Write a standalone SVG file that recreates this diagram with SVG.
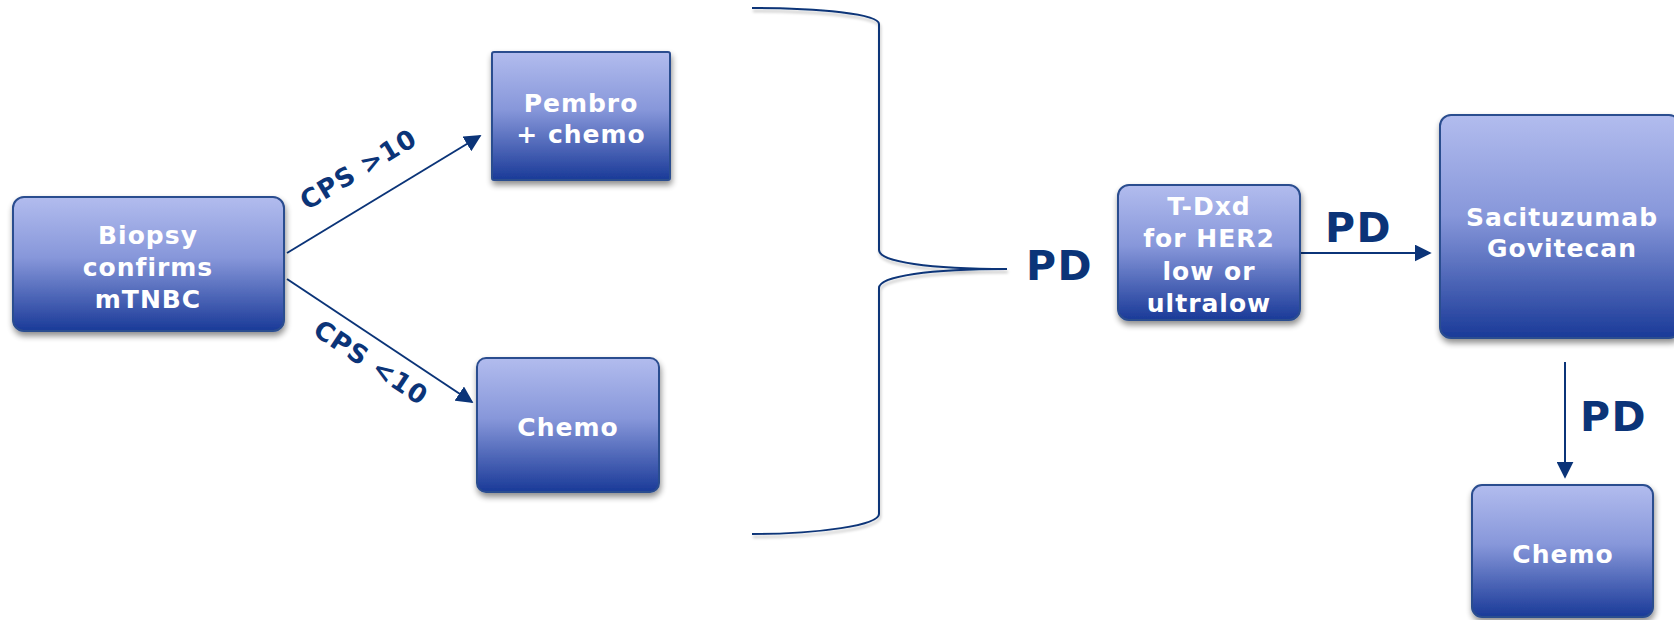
<svg xmlns="http://www.w3.org/2000/svg" width="1674" height="620" viewBox="0 0 1674 620">
<defs>
<linearGradient id="g" x1="0" y1="0" x2="0" y2="1">
<stop offset="0" stop-color="#b2bcee"/>
<stop offset="0.45" stop-color="#8797da"/>
<stop offset="1" stop-color="#1a3a98"/>
</linearGradient>
<filter id="sh" x="-10%" y="-10%" width="125%" height="125%">
<feGaussianBlur in="SourceAlpha" stdDeviation="3"/>
<feOffset dx="1" dy="4" result="b"/>
<feComponentTransfer><feFuncA type="linear" slope="0.45"/></feComponentTransfer>
<feMerge><feMergeNode/><feMergeNode in="SourceGraphic"/></feMerge>
</filter>
<filter id="lsh" x="-5%" y="-5%" width="110%" height="110%">
<feGaussianBlur in="SourceAlpha" stdDeviation="1.5"/>
<feOffset dx="1" dy="3"/>
<feComponentTransfer><feFuncA type="linear" slope="0.25"/></feComponentTransfer>
<feMerge><feMergeNode/><feMergeNode in="SourceGraphic"/></feMerge>
</filter>
<marker id="ah2" viewBox="0 0 10 10" refX="9" refY="5" markerWidth="17" markerHeight="17" markerUnits="userSpaceOnUse" orient="auto">
<path d="M0,0 L10,5 L0,10 z" fill="#0b3478"/>
</marker>
</defs>
<style>
.box{fill:url(#g);stroke:#2c4d8f;stroke-width:2;filter:url(#sh)}
.t{font-family:"DejaVu Sans",Verdana,sans-serif;font-weight:bold;fill:#ffffff;text-anchor:middle;font-size:25px;letter-spacing:1px}
.lbl{font-family:"DejaVu Sans",Verdana,sans-serif;font-weight:bold;fill:#0b3478;font-size:26px;letter-spacing:1px}
.pd{font-family:"DejaVu Sans",Verdana,sans-serif;font-weight:bold;fill:#0b3478;font-size:41px;letter-spacing:1.5px}
.c{stroke:#0b3478;stroke-width:2;fill:none}
</style>
<rect width="1674" height="620" fill="#ffffff"/>
<g id="connectors">
<line class="c" x1="287" y1="253" x2="480" y2="136" marker-end="url(#ah2)"/>
<line class="c" x1="287" y1="279" x2="472" y2="402" marker-end="url(#ah2)"/>
<path class="c" filter="url(#lsh)" d="M752,8 C820,8 879,14 879,24 L879,250 C879,262 930,269 1007,269 C930,269 879,276 879,288 L879,514 C879,525 820,534 752,534"/>
<line class="c" x1="1300" y1="253" x2="1430" y2="253" marker-end="url(#ah2)"/>
<line class="c" x1="1565" y1="362" x2="1565" y2="477" marker-end="url(#ah2)"/>
<text class="lbl" transform="translate(363,177) rotate(-31)" text-anchor="middle">CPS &gt;10</text>
<text class="lbl" transform="translate(366,370) rotate(33.6)" text-anchor="middle">CPS &lt;10</text>
<text class="pd" x="1026" y="280">PD</text>
<text class="pd" x="1325" y="242">PD</text>
<text class="pd" x="1580" y="431">PD</text>
</g>
<g id="biopsy">
<rect class="box" x="13" y="197" width="271" height="134" rx="11"/>
<text class="t" x="148" y="244">Biopsy</text>
<text class="t" x="148" y="276">confirms</text>
<text class="t" x="148" y="308">mTNBC</text>
</g>
<g id="pembro">
<rect class="box" x="492" y="52" width="178" height="128" rx="2"/>
<text class="t" x="581" y="112">Pembro</text>
<text class="t" x="581" y="143">+ chemo</text>
</g>
<g id="chemo1">
<rect class="box" x="477" y="358" width="182" height="134" rx="9"/>
<text class="t" x="568" y="436">Chemo</text>
</g>
<g id="tdxd">
<rect class="box" x="1118" y="185" width="182" height="135" rx="11"/>
<text class="t" x="1209" y="215">T-Dxd</text>
<text class="t" x="1209" y="247">for HER2</text>
<text class="t" x="1209" y="280">low or</text>
<text class="t" x="1209" y="312">ultralow</text>
</g>
<g id="sacituzumab">
<rect class="box" x="1440" y="115" width="240" height="223" rx="11"/>
<text class="t" x="1562" y="226">Sacituzumab</text>
<text class="t" x="1562" y="257">Govitecan</text>
</g>
<g id="chemo2">
<rect class="box" x="1472" y="485" width="181" height="132" rx="10"/>
<text class="t" x="1563" y="563">Chemo</text>
</g>
</svg>
